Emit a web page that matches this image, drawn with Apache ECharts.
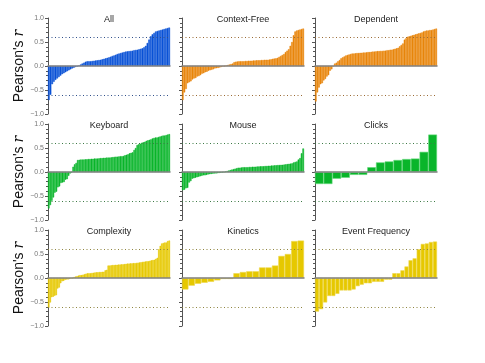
<!DOCTYPE html>
<html>
<head>
<meta charset="utf-8">
<script src="https://cdn.jsdelivr.net/npm/echarts@6/dist/echarts.min.js"></script>
<style>
  html, body { margin: 0; padding: 0; background: #fff; }
  #chart { width: 485px; height: 363px; }
</style>
</head>
<body>
<div id="chart"></div>
<script>
var panelTitles = ['All', 'Context-Free', 'Dependent', 'Keyboard', 'Mouse', 'Clicks', 'Complexity', 'Kinetics', 'Event Frequency'];

var allVals = [-0.71, -0.6, -0.38, -0.33, -0.29, -0.26, -0.23, -0.2, -0.17, -0.15, -0.13, -0.11, -0.09, -0.07, -0.05,
  -0.035, -0.02, -0.01, 0.01, 0.03, 0.05, 0.07, 0.09, 0.1, 0.1, 0.1, 0.105, 0.11, 0.115, 0.12, 0.125,
  0.13, 0.14, 0.15, 0.16, 0.17, 0.18, 0.195, 0.21, 0.22, 0.235, 0.25, 0.26, 0.27, 0.28, 0.29, 0.3,
  0.305, 0.31, 0.315, 0.32, 0.33, 0.335, 0.34, 0.35, 0.36, 0.37, 0.39, 0.42, 0.48, 0.55, 0.62,
  0.66, 0.69, 0.72, 0.73, 0.74, 0.75, 0.76, 0.77, 0.78, 0.79, 0.8];

var contextFreeVals = [-0.71, -0.55, -0.48, -0.36, -0.34, -0.32, -0.28, -0.26, -0.25, -0.22, -0.21, -0.19,
  -0.16, -0.15, -0.13, -0.12, -0.1, -0.09, -0.08, -0.07, -0.05, -0.045, -0.04, -0.03, -0.02, -0.01, -0.005,
  0.01, 0.02, 0.03, 0.04, 0.05, 0.08, 0.09,
  0.095, 0.1, 0.1, 0.1, 0.1, 0.105, 0.105, 0.11, 0.11, 0.11, 0.115,
  0.115, 0.12, 0.12, 0.12, 0.125, 0.125, 0.13, 0.13, 0.13, 0.135, 0.14,
  0.15, 0.155, 0.16, 0.17, 0.19, 0.21, 0.23, 0.25, 0.29, 0.32, 0.35, 0.42, 0.5, 0.64, 0.72,
  0.74, 0.75, 0.76, 0.77, 0.78];

var dependentVals = [-0.74, -0.55, -0.45, -0.38, -0.36, -0.3, -0.27, -0.22, -0.19, -0.1, -0.07, -0.01,
  0.05, 0.07, 0.1, 0.125, 0.16, 0.18, 0.2, 0.22, 0.23, 0.24, 0.25, 0.26, 0.26,
  0.265, 0.27, 0.27, 0.275, 0.275, 0.28, 0.28, 0.285, 0.29,
  0.29, 0.295, 0.3, 0.3, 0.305, 0.31, 0.31, 0.315, 0.315, 0.32, 0.32,
  0.33, 0.33, 0.34, 0.34, 0.35, 0.36, 0.37, 0.38, 0.41, 0.44, 0.47, 0.55, 0.58,
  0.61, 0.62, 0.63, 0.64, 0.65, 0.66, 0.67, 0.68, 0.69, 0.7,
  0.72, 0.73, 0.74, 0.74, 0.75, 0.75, 0.76, 0.77, 0.78];

var keyboardVals = [-0.76, -0.69, -0.6, -0.53, -0.43, -0.41, -0.32, -0.3, -0.23, -0.22, -0.21, -0.16, -0.15,
  -0.08, -0.03, -0.01, 0.11, 0.16, 0.19, 0.25,
  0.255, 0.26, 0.26, 0.26, 0.265, 0.265, 0.27, 0.27, 0.275, 0.275, 0.28, 0.28, 0.28, 0.285,
  0.29, 0.29, 0.295, 0.295, 0.3, 0.3, 0.3, 0.305, 0.31,
  0.315, 0.32, 0.32, 0.325, 0.33, 0.33, 0.335, 0.35, 0.36, 0.37, 0.39, 0.4, 0.41, 0.46, 0.5,
  0.56, 0.58, 0.59, 0.61, 0.62, 0.63, 0.65, 0.66, 0.67, 0.68,
  0.7, 0.71, 0.72, 0.72, 0.73, 0.74, 0.75, 0.76, 0.76, 0.77, 0.78, 0.79];

var mouseVals = [-0.38, -0.37, -0.34, -0.33, -0.22, -0.19, -0.14, -0.13, -0.12, -0.11, -0.1, -0.09,
  -0.08, -0.07, -0.07, -0.06, -0.05, -0.045, -0.04, -0.035, -0.03, -0.03,
  -0.025, -0.02, -0.015, -0.01, -0.005, 0.01, 0.02, 0.03, 0.04, 0.05, 0.06, 0.07,
  0.08, 0.09, 0.09, 0.095, 0.1, 0.1, 0.1, 0.1, 0.105, 0.105, 0.11, 0.11, 0.11,
  0.115, 0.115, 0.12, 0.12, 0.12, 0.125, 0.125, 0.13, 0.13,
  0.135, 0.135, 0.14, 0.14, 0.145, 0.145, 0.15, 0.15, 0.155,
  0.16, 0.165, 0.17, 0.175, 0.18, 0.2, 0.21, 0.22, 0.26, 0.29, 0.39, 0.49];

var clicksVals = [-0.25, -0.25, -0.14, -0.12, -0.06, -0.06, 0.1, 0.2, 0.22, 0.25, 0.27, 0.28, 0.42, 0.78];

var complexityVals = [-0.62, -0.51, -0.4, -0.39, -0.37, -0.36, -0.22, -0.2, -0.11, -0.07, -0.06,
  -0.04, -0.03, -0.03, -0.02, -0.01, -0.005, 0.02, 0.03, 0.04, 0.05, 0.06, 0.06, 0.07,
  0.08, 0.09, 0.1, 0.1, 0.1, 0.105, 0.11, 0.115, 0.12, 0.12, 0.125, 0.125, 0.13, 0.13,
  0.16, 0.17, 0.26, 0.26, 0.265,
  0.27, 0.27, 0.275, 0.275, 0.28, 0.28, 0.285, 0.285, 0.29,
  0.295, 0.3, 0.3, 0.305, 0.305, 0.31, 0.31, 0.315, 0.32,
  0.325, 0.33, 0.335, 0.34, 0.345, 0.35, 0.35, 0.36, 0.37, 0.375, 0.38, 0.4, 0.42,
  0.6, 0.67, 0.72, 0.73, 0.74, 0.74, 0.77, 0.78];

var kineticsVals = [-0.24, -0.16, -0.12, -0.1, -0.08, -0.05, -0.02, -0.02, 0.1, 0.125, 0.14, 0.14,
  0.22, 0.22, 0.26, 0.46, 0.5, 0.77, 0.78];

var eventFreqVals = [-0.7, -0.65, -0.51, -0.375, -0.375, -0.33, -0.26, -0.26, -0.26, -0.24, -0.17, -0.14,
  -0.11, -0.11, -0.08, -0.08, -0.08, -0.035, -0.035, 0.1, 0.1, 0.16, 0.24, 0.37, 0.41, 0.6, 0.71, 0.72,
  0.75, 0.76];

var yTicks = [-1, -0.5, 0, 0.5, 1];
var threshold = 0.6;

var panelData = [allVals, contextFreeVals, dependentVals, keyboardVals, mouseVals, clicksVals,
  complexityVals, kineticsVals, eventFreqVals];

// blue, orange x2, green x3, yellow x3
var fillColors = ['#0a52d6', '#e8850a', '#e8850a', '#09b52a', '#09b52a', '#09b52a', '#e6c800', '#e6c800', '#e6c800'];
var edgeColors = ['#3d78e0', '#efa040', '#efa040', '#5fd677', '#5fd677', '#5fd677', '#eed64a', '#eed64a', '#eed64a'];
var dotColors = ['#31508a', '#9a6a35', '#9a6a35', '#3d7a45', '#3d7a45', '#3d7a45', '#8f8540', '#8f8540', '#8f8540'];

var colLeft = [48, 182, 315];
var rowTop = [18, 124, 230];
var cellW = 122, cellH = 96;

var chart = echarts.init(document.getElementById('chart'));

var grids = [], xAxes = [], yAxes = [], series = [], titles = [];

panelData.forEach(function (vals, i) {
    var row = Math.floor(i / 3), col = i % 3;
    var sparse = vals.length < 40;
    grids.push({ left: colLeft[col], top: rowTop[row], width: cellW, height: cellH });

    titles.push({
        text: panelTitles[i],
        left: colLeft[col] + cellW / 2,
        top: rowTop[row] - 3,
        textAlign: 'center',
        padding: 0,
        textStyle: { fontSize: 9, fontWeight: 'normal', color: '#222', fontFamily: 'Liberation Sans' }
    });

    xAxes.push({
        type: 'category',
        gridIndex: i,
        data: vals.map(function (v, k) { return k; }),
        z: 10,
        axisLine: { onZero: true, lineStyle: { color: '#808080', width: 1.5 } },
        axisTick: { show: false },
        axisLabel: { show: false },
        splitLine: { show: false }
    });

    yAxes.push({
        type: 'value',
        gridIndex: i,
        min: -1,
        max: 1,
        interval: 0.5,
        name: col === 0 ? "Pearson's {i|r}" : '',
        nameLocation: 'middle',
        nameGap: 12,
        nameTextStyle: {
            fontSize: 14, color: '#111', fontFamily: 'Liberation Sans',
            rich: { i: { fontSize: 14, fontStyle: 'italic', fontFamily: 'DejaVu Serif', color: '#111' } }
        },
        axisLine: { show: true, lineStyle: { color: '#555', width: 1 } },
        axisTick: { show: true, length: 3, lineStyle: { color: '#555' } },
        minorTick: { show: true, splitNumber: 5, length: 2, lineStyle: { color: '#555' } },
        splitLine: { show: false },
        axisLabel: {
            show: col === 0,
            fontSize: 7,
            color: '#777',
            margin: 4,
            fontFamily: 'Liberation Sans',
            formatter: function (v) {
                if (yTicks.indexOf(v) < 0) return '';
                return (v < 0 ? '\u2212' : '') + Math.abs(v).toFixed(1);
            }
        }
    });

    series.push({
        type: 'bar',
        xAxisIndex: i,
        yAxisIndex: i,
        data: vals,
        barCategoryGap: '0%',
        itemStyle: {
            color: fillColors[i],
            borderColor: sparse ? edgeColors[i] : fillColors[i],
            borderWidth: sparse ? 0.6 : 0.5
        },
        markLine: {
            silent: true,
            symbol: 'none',
            label: { show: false },
            lineStyle: { color: dotColors[i], type: [1, 2.5], width: 1 },
            data: [{ yAxis: threshold }, { yAxis: -threshold }]
        }
    });
});

chart.setOption({
    backgroundColor: '#fff',
    animation: false,
    title: titles,
    grid: grids,
    xAxis: xAxes,
    yAxis: yAxes,
    series: series
});
</script>
</body>
</html>
